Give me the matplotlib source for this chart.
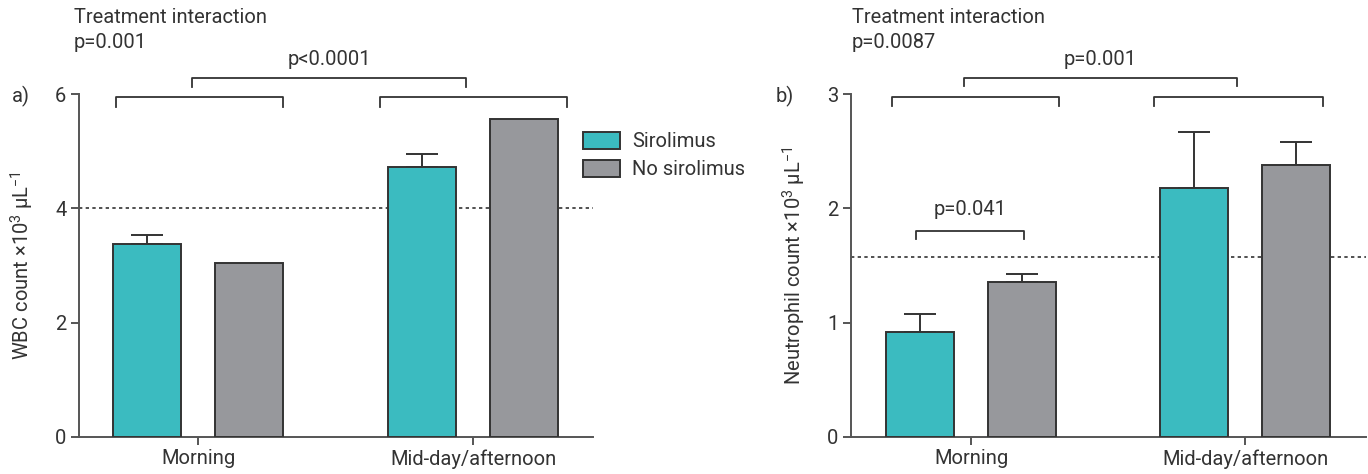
import matplotlib
matplotlib.use("Agg")
import matplotlib.pyplot as plt

plt.rcParams['font.family'] = ['Roboto', 'DejaVu Sans']
plt.rcParams['mathtext.fontset'] = 'custom'
plt.rcParams['mathtext.rm'] = 'Roboto'
plt.rcParams['mathtext.it'] = 'Roboto'
plt.rcParams['mathtext.bf'] = 'Roboto'

categories = ["Morning", "Mid-day/afternoon"]
series = ["Sirolimus", "No sirolimus"]

wbc_sir = [3.37, 4.73]
wbc_sir_err = [0.16, 0.22]
wbc_nosir = [3.04, 5.57]
wbc_nosir_err = [0.0, 0.0]
wbc_ref = 4.0

neu_sir = [0.92, 2.18]
neu_sir_err = [0.16, 0.49]
neu_nosir = [1.36, 2.38]
neu_nosir_err = [0.07, 0.20]
neu_ref = 1.575

teal = "#3BBBC0"
grey = "#97989C"
edge = "#333333"
spine_c = "#555555"
txt_c = "#333333"
FS = 14.5

W, H = 1368, 474
fig = plt.figure(figsize=(W / 100, H / 100), dpi=100)

def px(x, y):
    return x / W, 1 - y / H

ax_a = fig.add_axes([79 / W, 1 - 437 / H, 514 / W, 343 / H])
ax_b = fig.add_axes([851 / W, 1 - 437 / H, 515 / W, 343 / H])

def draw(ax, sir, sir_err, nosir, nosir_err, ref, ymax, yticks, xlim):
    off = 0.186
    bw = 0.247
    xs = [0, 1]
    ax.bar([x - off for x in xs], sir, bw, color=teal, edgecolor=edge, linewidth=1.4, zorder=3, label=series[0])
    ax.bar([x + off for x in xs], nosir, bw, color=grey, edgecolor=edge, linewidth=1.4, zorder=3, label=series[1])
    for x, v, e in zip([x - off for x in xs] + [x + off for x in xs], sir + nosir, sir_err + nosir_err):
        if e > 0:
            ax.errorbar(x, v, yerr=[[0], [e]], fmt='none', ecolor=edge, elinewidth=1.4,
                        capsize=11.5, capthick=1.4, zorder=2)
    ax.axhline(ref, color=edge, linestyle=(0, (2, 2)), linewidth=1.2, zorder=1)
    ax.set_xlim(*xlim)
    ax.set_ylim(0, ymax)
    ax.set_yticks(yticks)
    ax.set_yticklabels([str(t) for t in yticks], fontsize=FS, color=txt_c)
    ax.set_xticks(xs)
    ax.set_xticklabels(categories, fontsize=FS, color=txt_c)
    for s in ['top', 'right']:
        ax.spines[s].set_visible(False)
    for s in ['left', 'bottom']:
        ax.spines[s].set_color(spine_c)
        ax.spines[s].set_linewidth(1.4)
    ax.tick_params(axis='both', length=6, width=1.4, color=spine_c, pad=3)

def bracket(ax, x0, x1, y, leg, text=None, ty=None):
    ax.plot([x0, x0, x1, x1], [y - leg, y, y, y - leg], color=edge, linewidth=1.3,
            clip_on=False, zorder=4)
    if text:
        ax.text((x0 + x1) / 2, ty, text, ha='center', va='center', fontsize=FS, color=txt_c)

draw(ax_a, wbc_sir, wbc_sir_err, wbc_nosir, wbc_nosir_err, wbc_ref, 6, [0, 2, 4, 6], (-0.433, 1.436))
draw(ax_b, neu_sir, neu_sir_err, neu_nosir, neu_nosir_err, neu_ref, 3, [0, 1, 2, 3], (-0.438, 1.44))

ax_a.set_ylabel("WBC count ×10$^{3}$ µL$^{−1}$", fontsize=FS, color=txt_c, labelpad=14)
ax_b.set_ylabel("Neutrophil count ×10$^{3}$ µL$^{−1}$", fontsize=FS, color=txt_c, labelpad=14)

# brackets panel a
bracket(ax_a, -0.30, 0.309, 5.94, 0.17)
bracket(ax_a, 0.662, 1.342, 5.94, 0.17)
bracket(ax_a, -0.022, 0.975, 6.28, 0.16, "p<0.0001", 6.60)

# brackets panel b
bracket(ax_b, -0.288, 0.321, 2.975, 0.08)
bracket(ax_b, 0.668, 1.285, 2.975, 0.08)
bracket(ax_b, -0.026, 0.971, 3.14, 0.07, "p=0.001", 3.30)
bracket(ax_b, -0.20, 0.193, 1.805, 0.075, "p=0.041", 1.99)

fig.text(*px(74, 30), "Treatment interaction\np=0.001", ha='left', va='center',
         fontsize=FS, color=txt_c, linespacing=1.42)
fig.text(*px(852, 30), "Treatment interaction\np=0.0087", ha='left', va='center',
         fontsize=FS, color=txt_c, linespacing=1.42)
fig.text(*px(12, 96), "a)", ha='left', va='center', fontsize=FS, color=txt_c)
fig.text(*px(776, 96), "b)", ha='left', va='center', fontsize=FS, color=txt_c)

leg = ax_a.legend(loc='upper left', bbox_to_anchor=(0.98, 0.89), frameon=False, fontsize=FS,
                  handlelength=1.84, handleheight=0.95, handletextpad=0.6, labelspacing=0.42,
                  borderaxespad=0, borderpad=0)
for t in leg.get_texts():
    t.set_color(txt_c)

fig.savefig("out.png", dpi=100)
